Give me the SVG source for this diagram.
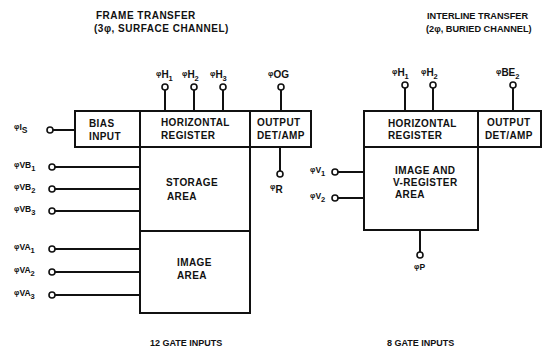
<svg xmlns="http://www.w3.org/2000/svg" width="547" height="350" viewBox="0 0 547 350">
<style>
  .box { fill: #fff; stroke: #111; stroke-width: 2; }
  .wire { stroke: #111; stroke-width: 2; fill: none; }
  .pin { fill: #fff; stroke: #111; stroke-width: 1.6; }
  text { font-family: "Liberation Sans", Arial, sans-serif; font-weight: bold; fill: #111; }
  .t { font-size: 10px; letter-spacing: 0.4px; }
  .title { font-size: 10px; letter-spacing: 0.5px; }
  .title2 { font-size: 9.2px; }
  .foot { font-size: 9px; }
  .lbl { font-size: 10px; }
  .lbs { font-size: 8.5px; }
  .phi { font-size: 7.5px; }
  .sub { font-size: 7.5px; }
</style>
<rect width="547" height="350" fill="#fff"/>

<g id="titles">
  <text class="title" x="96" y="19">FRAME TRANSFER</text>
  <text class="title" x="94" y="32">(3φ, SURFACE CHANNEL)</text>
  <text class="title2" x="427" y="19">INTERLINE TRANSFER</text>
  <text class="title2" x="426" y="32">(2φ, BURIED CHANNEL)</text>
  <text class="foot" x="150" y="346">12 GATE INPUTS</text>
  <text class="foot" x="387" y="346">8 GATE INPUTS</text>
</g>

<g id="connectors">
  <!-- frame transfer top pins -->
  <line class="wire" x1="165" y1="90" x2="165" y2="111"/>
  <line class="wire" x1="194" y1="90" x2="194" y2="111"/>
  <line class="wire" x1="223" y1="90" x2="223" y2="111"/>
  <line class="wire" x1="281" y1="90" x2="281" y2="111"/>
  <!-- phi R -->
  <line class="wire" x1="280" y1="147" x2="280" y2="171"/>
  <!-- left inputs -->
  <line class="wire" x1="53" y1="130" x2="75" y2="130"/>
  <line class="wire" x1="55" y1="167" x2="140" y2="167"/>
  <line class="wire" x1="55" y1="189" x2="140" y2="189"/>
  <line class="wire" x1="55" y1="211" x2="140" y2="211"/>
  <line class="wire" x1="55" y1="249" x2="140" y2="249"/>
  <line class="wire" x1="55" y1="272" x2="140" y2="272"/>
  <line class="wire" x1="55" y1="295" x2="140" y2="295"/>
  <!-- interline top pins -->
  <line class="wire" x1="405" y1="88" x2="405" y2="111"/>
  <line class="wire" x1="433" y1="88" x2="433" y2="111"/>
  <line class="wire" x1="513" y1="88" x2="513" y2="111"/>
  <!-- interline V inputs -->
  <line class="wire" x1="338" y1="172" x2="364" y2="172"/>
  <line class="wire" x1="338" y1="198" x2="364" y2="198"/>
  <!-- phi P -->
  <line class="wire" x1="420" y1="230" x2="420" y2="252"/>

  <circle class="pin" cx="165" cy="87" r="3"/>
  <circle class="pin" cx="194" cy="87" r="3"/>
  <circle class="pin" cx="223" cy="87" r="3"/>
  <circle class="pin" cx="281" cy="87" r="3"/>
  <circle class="pin" cx="280" cy="174" r="3"/>
  <circle class="pin" cx="50" cy="130" r="3"/>
  <circle class="pin" cx="52" cy="167" r="3"/>
  <circle class="pin" cx="52" cy="189" r="3"/>
  <circle class="pin" cx="52" cy="211" r="3"/>
  <circle class="pin" cx="52" cy="249" r="3"/>
  <circle class="pin" cx="52" cy="272" r="3"/>
  <circle class="pin" cx="52" cy="295" r="3"/>
  <circle class="pin" cx="405" cy="85" r="3"/>
  <circle class="pin" cx="433" cy="85" r="3"/>
  <circle class="pin" cx="513" cy="85" r="3"/>
  <circle class="pin" cx="335" cy="172" r="3"/>
  <circle class="pin" cx="335" cy="198" r="3"/>
  <circle class="pin" cx="420" cy="255" r="3"/>
</g>

<g id="pin-labels">
  <text class="lbl" x="156" y="78"><tspan class="phi" dy="-2">φ</tspan><tspan dy="2">H</tspan><tspan class="sub" dy="3">1</tspan></text>
  <text class="lbl" x="182" y="78"><tspan class="phi" dy="-2">φ</tspan><tspan dy="2">H</tspan><tspan class="sub" dy="3">2</tspan></text>
  <text class="lbl" x="210" y="78"><tspan class="phi" dy="-2">φ</tspan><tspan dy="2">H</tspan><tspan class="sub" dy="3">3</tspan></text>
  <text class="lbl" x="268" y="78"><tspan class="phi" dy="-2">φ</tspan><tspan dy="2">OG</tspan></text>
  <text class="lbl" x="270" y="191"><tspan class="phi" dy="-2">φ</tspan><tspan dy="4">R</tspan></text>
  <text class="lbs" x="14" y="130"><tspan class="phi" dy="-1">φ</tspan><tspan dy="1">I</tspan><tspan dy="3">S</tspan></text>
  <text class="lbs" x="14" y="168"><tspan class="phi" dy="-1">φ</tspan><tspan dy="1">VB</tspan><tspan class="sub" dy="3">1</tspan></text>
  <text class="lbs" x="14" y="190"><tspan class="phi" dy="-1">φ</tspan><tspan dy="1">VB</tspan><tspan class="sub" dy="3">2</tspan></text>
  <text class="lbs" x="14" y="212"><tspan class="phi" dy="-1">φ</tspan><tspan dy="1">VB</tspan><tspan class="sub" dy="3">3</tspan></text>
  <text class="lbs" x="14" y="250"><tspan class="phi" dy="-1">φ</tspan><tspan dy="1">VA</tspan><tspan class="sub" dy="3">1</tspan></text>
  <text class="lbs" x="14" y="273"><tspan class="phi" dy="-1">φ</tspan><tspan dy="1">VA</tspan><tspan class="sub" dy="3">2</tspan></text>
  <text class="lbs" x="14" y="296"><tspan class="phi" dy="-1">φ</tspan><tspan dy="1">VA</tspan><tspan class="sub" dy="3">3</tspan></text>
  <text class="lbl" x="392" y="76"><tspan class="phi" dy="-2">φ</tspan><tspan dy="2">H</tspan><tspan class="sub" dy="3">1</tspan></text>
  <text class="lbl" x="421" y="76"><tspan class="phi" dy="-2">φ</tspan><tspan dy="2">H</tspan><tspan class="sub" dy="3">2</tspan></text>
  <text class="lbl" x="496" y="76"><tspan class="phi" dy="-2">φ</tspan><tspan dy="2">BE</tspan><tspan class="sub" dy="3">2</tspan></text>
  <text class="lbs" x="310" y="173"><tspan class="phi" dy="-1">φ</tspan><tspan dy="1">V</tspan><tspan class="sub" dy="3">1</tspan></text>
  <text class="lbs" x="310" y="199"><tspan class="phi" dy="-1">φ</tspan><tspan dy="1">V</tspan><tspan class="sub" dy="3">2</tspan></text>
  <text class="lbs" x="414" y="270"><tspan class="phi" dy="-1">φ</tspan><tspan dy="1">P</tspan></text>
</g>

<g id="bias-input">
  <rect class="box" x="75" y="111" width="65" height="36"/>
  <text class="t" x="89" y="127">BIAS</text>
  <text class="t" x="89" y="140">INPUT</text>
</g>
<g id="ft-horizontal-register">
  <rect class="box" x="140" y="111" width="110" height="36"/>
  <text class="t" x="161" y="126">HORIZONTAL</text>
  <text class="t" x="161" y="139">REGISTER</text>
</g>
<g id="ft-output">
  <rect class="box" x="250" y="111" width="61" height="36"/>
  <text class="t" x="257" y="126">OUTPUT</text>
  <text class="t" x="257" y="139">DET/AMP</text>
</g>
<g id="storage-area">
  <rect class="box" x="140" y="147" width="110" height="84"/>
  <text class="t" x="166" y="186">STORAGE</text>
  <text class="t" x="167" y="200">AREA</text>
</g>
<g id="image-area">
  <rect class="box" x="140" y="231" width="110" height="82"/>
  <text class="t" x="177" y="266">IMAGE</text>
  <text class="t" x="177" y="279">AREA</text>
</g>

<g id="il-horizontal-register">
  <rect class="box" x="364" y="111" width="114" height="36"/>
  <text class="t" x="388" y="127">HORIZONTAL</text>
  <text class="t" x="388" y="139">REGISTER</text>
</g>
<g id="il-output">
  <rect class="box" x="478" y="111" width="63" height="36"/>
  <text class="t" x="487" y="126">OUTPUT</text>
  <text class="t" x="485" y="139">DET/AMP</text>
</g>
<g id="image-vregister-area">
  <rect class="box" x="364" y="147" width="114" height="83"/>
  <text class="t" x="395" y="174">IMAGE AND</text>
  <text class="t" x="393" y="186">V-REGISTER</text>
  <text class="t" x="395" y="198">AREA</text>
</g>
</svg>
